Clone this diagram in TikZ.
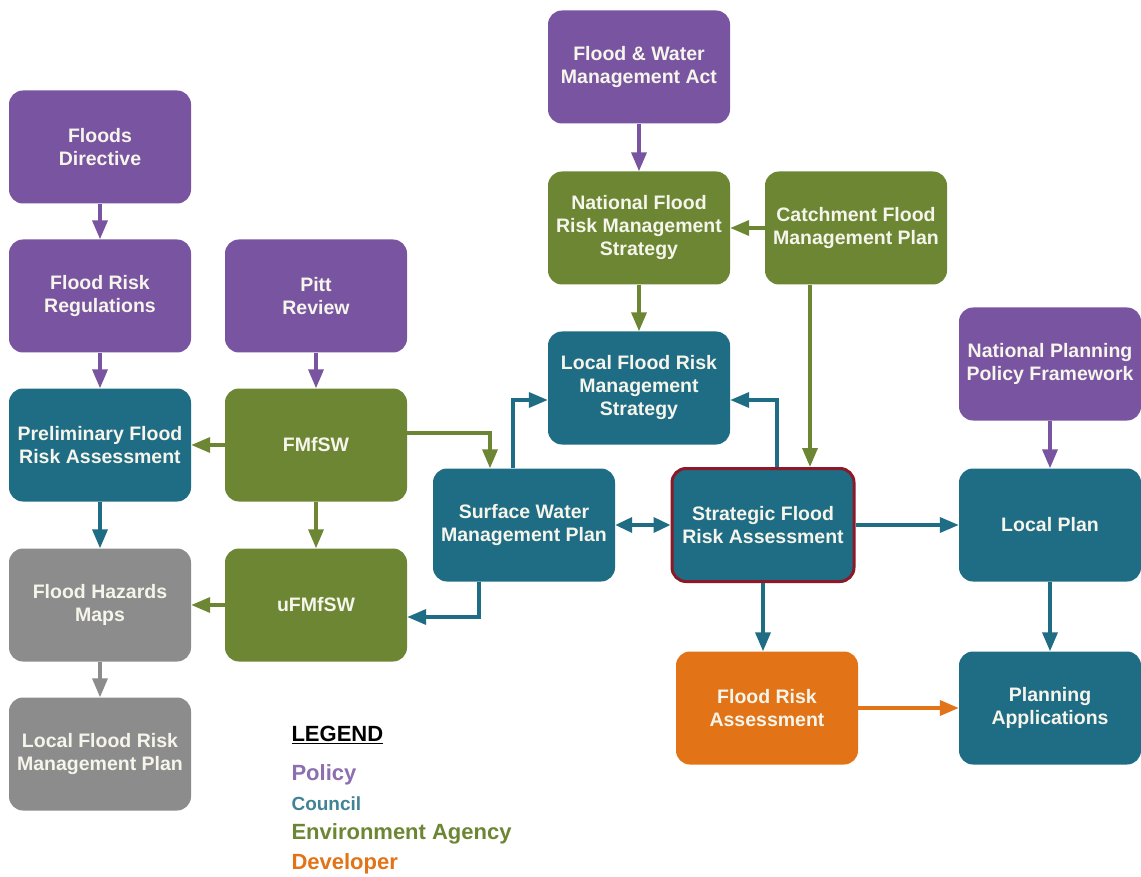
\documentclass[tikz,border=0pt]{standalone}
\usepackage{fontspec}
\setmainfont{Liberation Sans}
\usetikzlibrary{arrows.meta}
\definecolor{policy}{RGB}{121,84,160}
\definecolor{council}{RGB}{31,108,133}
\definecolor{agency}{RGB}{108,134,52}
\definecolor{developer}{RGB}{226,115,22}
\definecolor{plain}{RGB}{140,140,140}
\definecolor{border}{RGB}{140,25,40}
\definecolor{boxtext}{RGB}{245,245,235}

\begin{document}
\begin{tikzpicture}[x=1pt,y=-1pt,
  box/.style={rounded corners=14pt, minimum width=182pt, minimum height=113pt,
    align=center, text=boxtext, inner sep=0pt,
    font=\bfseries\fontsize{19.5}{23}\selectfont},
  link/.style={line width=3.5pt, -{Triangle[length=19pt,width=15pt]}},
  legend/.style={anchor=west, font=\bfseries\fontsize{22}{26}\selectfont}]
\useasboundingbox[fill=white] (0,0) rectangle (1141,877);

% Left column
\node[box,fill=policy] (fd) at (100,147) {Floods\\Directive};
\node[box,fill=policy] (frr) at (100,296) {Flood Risk\\Regulations};
\node[box,fill=council] (pfra) at (100,445) {Preliminary Flood\\Risk Assessment};
\node[box,fill=plain] (fhm) at (100,605) {Flood Hazards\\Maps};
\node[box,fill=plain] (lfrmp) at (100,754) {Local Flood Risk\\Management Plan};

% Second column
\node[box,fill=policy] (pitt) at (316,296) {Pitt\\Review};
\node[box,fill=agency] (fmfsw) at (316,445) {FMfSW};
\node[box,fill=agency] (ufmfsw) at (316,605) {uFMfSW};
\node[box,fill=council] (swmp) at (524,525) {Surface Water\\Management Plan};

% Middle
\node[box,fill=policy] (fwma) at (639,67) {Flood \& Water\\Management Act};
\node[box,fill=agency] (nfrms) at (639,228) {National Flood\\Risk Management\\Strategy};
\node[box,fill=agency] (cfmp) at (856,228) {Catchment Flood\\Management Plan};
\node[box,fill=council] (lfrms) at (639,388) {Local Flood Risk\\Management\\Strategy};
\node[box,fill=council,draw=border,line width=3pt] (sfra) at (763,525) {Strategic Flood\\Risk Assessment};
\node[box,fill=developer] (fra) at (767,708) {Flood Risk\\Assessment};

% Right column
\node[box,fill=policy] (nppf) at (1050,364) {National Planning\\Policy Framework};
\node[box,fill=council] (lp) at (1050,525) {Local Plan};
\node[box,fill=council] (pa) at (1050,708) {Planning\\Applications};

% Policy links
\draw[link,policy] (fd) -- (frr);
\draw[link,policy] (frr) -- (pfra);
\draw[link,policy] (pitt) -- (fmfsw);
\draw[link,policy] (fwma) -- (nfrms);
\draw[link,policy] (nppf) -- (lp);

% Agency links
\draw[link,agency] (fmfsw) -- (pfra);
\draw[link,agency] (fmfsw) -- (ufmfsw);
\draw[link,agency] (ufmfsw) -- (fhm);
\draw[link,agency] ([yshift=12pt]fmfsw.east) -| ([xshift=-34pt]swmp.north);
\draw[link,agency] (cfmp) -- (nfrms);
\draw[link,agency] (nfrms) -- (lfrms);
\draw[link,agency] ([xshift=-46pt]cfmp.south) -- ([xshift=-46pt]cfmp.south |- sfra.north);

% Council links
\draw[link,council] (pfra) -- (fhm);
\draw[link,council] ([xshift=-11pt]swmp.north) |- ([yshift=-12pt]lfrms.west);
\draw[link,council] ([xshift=-45pt]swmp.south) |- ([yshift=-12pt]ufmfsw.east);
\draw[link,council,{Triangle[length=17pt,width=15pt]}-{Triangle[length=17pt,width=15pt]}] (swmp) -- (sfra);
\draw[link,council] ([xshift=14pt]sfra.north) |- ([yshift=-12pt]lfrms.east);
\draw[link,council] (sfra) -- (lp);
\draw[link,council] (sfra.south) -- (sfra.south |- fra.north);
\draw[link,council] (lp) -- (pa);
\draw[link,plain] (fhm) -- (lfrmp);

% Developer link
\draw[link,developer] (fra) -- (pa);

% Legend
\node[legend] (lg) at (288,735) {\underline{LEGEND}};
\node[legend,text=policy!85] (lgp) at (288,775) {Policy};
\node[legend,text=council!85,font=\bfseries\fontsize{19}{22}\selectfont] (lgc) at (288,804) {Council};
\node[legend,text=agency] (lga) at (288,834) {Environment Agency};
\node[legend,text=developer] (lgd) at (288,864) {Developer};
\end{tikzpicture}
\end{document}
